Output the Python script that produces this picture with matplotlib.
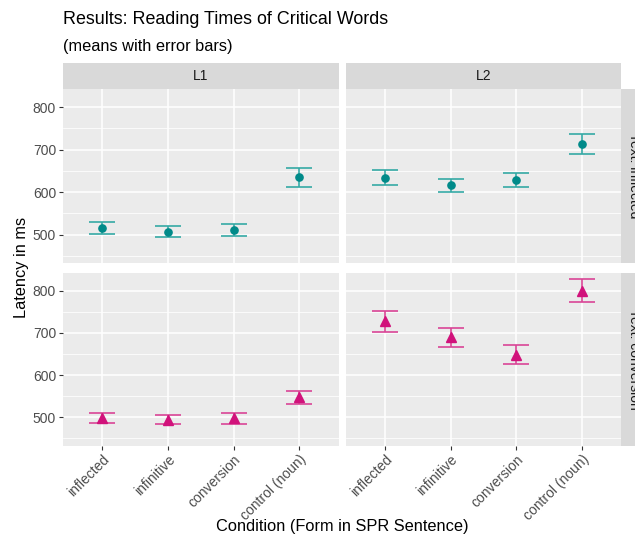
import matplotlib
matplotlib.use('Agg')
import matplotlib.pyplot as plt
import numpy as np

plt.rcParams['font.family'] = ['Liberation Sans', 'DejaVu Sans']

# condições (eixo x) e grupos dos painéis
conditions = ['inflected', 'infinitive', 'conversion', 'control (noun)']
groups = ['L1', 'L2']
texts = ['Text: inflected', 'Text: conversion']

# médias e erro padrão (ms) por painel
mean_infl_L1 = [516, 507, 510, 635]
se_infl_L1 = [14, 13, 14, 23]
mean_infl_L2 = [634, 616, 628, 714]
se_infl_L2 = [17, 16, 16, 23]
mean_conv_L1 = [498, 494, 497, 547]
se_conv_L1 = [11, 11, 12, 16]
mean_conv_L2 = [727, 689, 648, 800]
se_conv_L2 = [24, 23, 22, 27]

means = [[mean_infl_L1, mean_infl_L2], [mean_conv_L1, mean_conv_L2]]
ses = [[se_infl_L1, se_infl_L2], [se_conv_L1, se_conv_L2]]

point_cols = ['#008a89', '#d1127b']
bar_cols = ['#35a9a5', '#d94596']
markers = ['o', '^']
msizes = [5.2, 6.8]

W, H = 635, 537
fig = plt.figure(figsize=(W / 100, H / 100), dpi=100)

def box(x0, y0, x1, y1):
    # pixels (origem no topo) -> coordenadas da figura
    return [x0 / W, 1 - y1 / H, (x1 - x0) / W, (y1 - y0) / H]

cols_px = [(63, 338.5), (345.7, 621)]
rows_px = [(89, 263), (272.5, 445.5)]
x = np.arange(1, len(conditions) + 1)
tick_col = '#4d4d4d'

for r in range(2):
    for c in range(2):
        ax = fig.add_axes(box(cols_px[c][0], rows_px[r][0], cols_px[c][1], rows_px[r][1]))
        ax.set_facecolor('#ebebeb')
        for s in ax.spines.values():
            s.set_visible(False)
        ax.set_xlim(0.4, 4.6)
        ax.set_ylim(433, 843)
        ax.set_yticks([500, 600, 700, 800])
        ax.set_yticks([450, 550, 650, 750], minor=True)
        ax.set_xticks(x)
        ax.grid(which='major', color='white', linewidth=1.1)
        ax.grid(which='minor', axis='y', color='white', linewidth=0.55)
        ax.set_axisbelow(True)
        ax.tick_params(which='minor', length=0)
        ax.tick_params(which='major', length=3, width=0.8, color='#333333',
                       labelsize=10, labelcolor=tick_col, pad=2)
        m = np.array(means[r][c])
        e = np.array(ses[r][c])
        ax.errorbar(x, m, yerr=e, fmt='none', ecolor=bar_cols[r], elinewidth=1.2,
                    capsize=9.4, capthick=1.2)
        ax.plot(x, m, linestyle='none', marker=markers[r], color=point_cols[r],
                markersize=msizes[r], zorder=3)
        if c == 0:
            ax.set_yticklabels(['500', '600', '700', '800'])
        else:
            ax.tick_params(axis='y', length=0, labelleft=False)
        if r == 1:
            ax.set_xticklabels(conditions, rotation=45, ha='right', va='top',
                               rotation_mode='anchor')
        else:
            ax.tick_params(axis='x', length=0, labelbottom=False)

# faixas superiores (L1 / L2)
for c in range(2):
    sax = fig.add_axes(box(cols_px[c][0], 63, cols_px[c][1], 89))
    sax.set_facecolor('#d9d9d9')
    sax.set_xticks([]); sax.set_yticks([])
    for s in sax.spines.values():
        s.set_visible(False)
    sax.text(0.5, 0.5, groups[c], ha='center', va='center', fontsize=10, color='#1a1a1a')

# faixas laterais (texto)
for r in range(2):
    sax = fig.add_axes(box(621, rows_px[r][0], 647, rows_px[r][1]))
    sax.set_facecolor('#d9d9d9')
    sax.set_xticks([]); sax.set_yticks([])
    for s in sax.spines.values():
        s.set_visible(False)
    sax.text(0.5, 0.5, texts[r], ha='center', va='center', rotation=-90,
             fontsize=10, color='#1a1a1a')

fig.text(63 / W, 1 - 20 / H, 'Results: Reading Times of Critical Words',
         fontsize=12.9, ha='left', va='center', color='black')
fig.text(63 / W, 1 - 47 / H, '(means with error bars)',
         fontsize=11.8, ha='left', va='center', color='black')
fig.text(342 / W, 1 - 527 / H, 'Condition (Form in SPR Sentence)',
         fontsize=11.8, ha='center', va='center')
fig.text(22 / W, 1 - 267 / H, 'Latency in ms', fontsize=11.8, rotation=90,
         ha='center', va='center')

fig.savefig('out.png', dpi=100)
